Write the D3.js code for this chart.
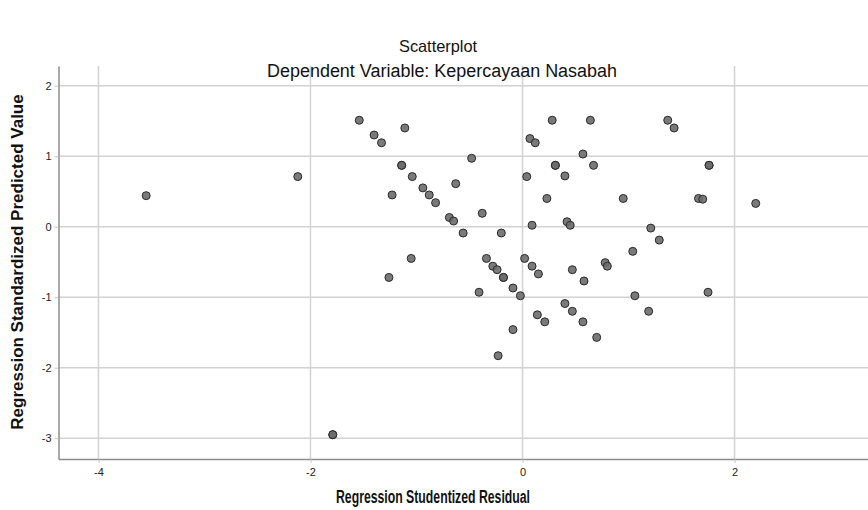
<!doctype html>
<html>
<head>
    <meta charset="utf-8">
    <title>Scatterplot</title>
    <script src="https://cdn.jsdelivr.net/npm/d3@7"></script>
    <style>
        body { margin: 0; background: #fff; }
        text { font-family: "Liberation Sans", Arial, sans-serif; }
    </style>
</head>
<body>
    <svg width="868" height="510"></svg>
    <script>
    // Regression Studentized Residual (x) / Regression Standardized Predicted Value (y)
    var residual = [
        -3.55, -2.12, -1.79, -1.79, -1.54, -1.40, -1.33, -1.11, -1.14, -1.14,
        -1.04, -0.94, -1.23, -0.88, -0.82, -0.69, -0.65, -0.48, -0.63, -0.38,
        -0.56, -0.20, 0.07, 0.12, 0.28, 0.04, 0.23, 0.09, -1.05, -1.26,
        -0.34, -0.28, -0.24, -0.18, -0.18, -0.09, -0.02, -0.41, 0.02, 0.09,
        0.15, -0.09, -0.23, 0.14, 0.21, 0.40, 0.47, 0.57, 0.70, 0.47,
        0.58, 0.42, 0.45, 0.40, 0.57, 0.31, 0.31, 0.67, 0.64, 1.37,
        1.43, 1.76, 1.76, 0.95, 1.66, 1.70, 2.20, 1.21, 1.29, 1.04,
        0.78, 0.80, 1.06, 1.75, 1.19
    ];
    var predicted = [
        0.44, 0.71, -2.95, -2.95, 1.51, 1.30, 1.19, 1.40, 0.87, 0.87,
        0.71, 0.55, 0.45, 0.45, 0.34, 0.13, 0.08, 0.97, 0.61, 0.19,
        -0.09, -0.09, 1.25, 1.19, 1.51, 0.71, 0.40, 0.02, -0.45, -0.72,
        -0.45, -0.56, -0.61, -0.72, -0.72, -0.87, -0.98, -0.93, -0.45, -0.56,
        -0.67, -1.46, -1.83, -1.25, -1.35, -1.09, -1.20, -1.35, -1.57, -0.61,
        -0.77, 0.07, 0.02, 0.72, 1.03, 0.87, 0.87, 0.87, 1.51, 1.51,
        1.40, 0.87, 0.87, 0.40, 0.40, 0.39, 0.33, -0.02, -0.19, -0.35,
        -0.51, -0.56, -0.98, -0.93, -1.20
    ];
    var xTicks = [-4, -2, 0, 2];
    var yTicks = [-3, -2, -1, 0, 1, 2];

    var points = residual.map(function(v, i) {
        return { x: v, y: predicted[i] };
    });

    // plot box (left axis, right edge, top, bottom axis)
    var plotLeft = 58.5, plotRight = 868, plotTop = 66, plotBottom = 459;

    var svg = d3.select("svg");

    var xScale = d3.scaleLinear()
        .domain([-4.377, 3.259])
        .range([plotLeft, plotRight]);

    var yScale = d3.scaleLinear()
        .domain([-3.295, 2.279])
        .range([plotBottom, plotTop]);

    // grid lines
    svg.append("g").selectAll("line")
        .data(yTicks)
        .enter().append("line")
        .attr("x1", plotLeft).attr("x2", plotRight)
        .attr("y1", function(d) { return yScale(d); })
        .attr("y2", function(d) { return yScale(d); })
        .attr("stroke", "#d2d2d2")
        .attr("stroke-width", 1.5);

    svg.append("g").selectAll("line")
        .data(xTicks)
        .enter().append("line")
        .attr("y1", plotTop).attr("y2", plotBottom)
        .attr("x1", function(d) { return xScale(d); })
        .attr("x2", function(d) { return xScale(d); })
        .attr("stroke", "#d2d2d2")
        .attr("stroke-width", 1.5);

    // axes
    var fmt = function(d) { return String(d); };

    var xAxis = d3.axisBottom(xScale)
        .tickValues(xTicks)
        .tickSize(4)
        .tickSizeOuter(0)
        .tickFormat(fmt);

    var yAxis = d3.axisLeft(yScale)
        .tickValues(yTicks)
        .tickSize(4)
        .tickSizeOuter(0)
        .tickFormat(fmt);

    var gx = svg.append("g")
        .attr("transform", "translate(0," + plotBottom + ")")
        .call(xAxis);

    var gy = svg.append("g")
        .attr("transform", "translate(" + plotLeft + ",0)")
        .call(yAxis);

    [gx, gy].forEach(function(g) {
        g.attr("font-family", null);
        g.select(".domain").attr("stroke", "#8c8c8c").attr("stroke-width", 1.5);
        g.selectAll(".tick line").attr("stroke", "#c4c4c4");
        g.selectAll(".tick text")
            .attr("font-size", 11)
            .attr("fill", "#222");
    });
    gx.selectAll(".tick text").attr("dy", "0.95em");

    // points
    svg.append("g").selectAll("circle")
        .data(points)
        .enter().append("circle")
        .attr("cx", function(d) { return xScale(d.x); })
        .attr("cy", function(d) { return yScale(d.y); })
        .attr("r", 4)
        .attr("fill", "#6c6c6c")
        .attr("fill-opacity", 0.9)
        .attr("stroke", "#2a2a2a")
        .attr("stroke-width", 1);

    // titles (reference uses a condensed face, so squeeze to its width)
    svg.append("text")
        .attr("x", 438).attr("y", 52)
        .attr("text-anchor", "middle")
        .attr("font-size", 17)
        .attr("textLength", 78)
        .attr("lengthAdjust", "spacingAndGlyphs")
        .attr("fill", "#111")
        .text("Scatterplot");

    svg.append("text")
        .attr("x", 442).attr("y", 77)
        .attr("text-anchor", "middle")
        .attr("font-size", 18)
        .attr("textLength", 350)
        .attr("lengthAdjust", "spacingAndGlyphs")
        .attr("fill", "#111")
        .text("Dependent Variable: Kepercayaan Nasabah");

    svg.append("text")
        .attr("x", 433).attr("y", 503)
        .attr("text-anchor", "middle")
        .attr("font-size", 18)
        .attr("font-weight", "bold")
        .attr("textLength", 194)
        .attr("lengthAdjust", "spacingAndGlyphs")
        .attr("fill", "#111")
        .text("Regression Studentized Residual");

    svg.append("text")
        .attr("transform", "translate(23,262) rotate(-90)")
        .attr("text-anchor", "middle")
        .attr("font-size", 17)
        .attr("font-weight", "bold")
        .attr("fill", "#111")
        .text("Regression Standardized Predicted Value");
    </script>
</body>
</html>
